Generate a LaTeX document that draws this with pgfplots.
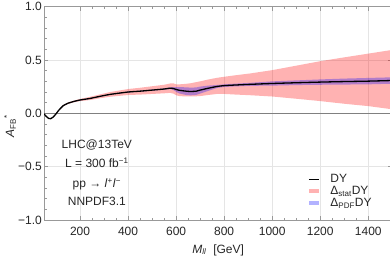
\documentclass[border=0pt]{standalone}
\usepackage{fontspec}
\setmainfont{Liberation Sans}
\usepackage{pgfplots}
\pgfplotsset{compat=1.18}
\usepgfplotslibrary{fillbetween}
\usepackage{pgfplotstable}

\pgfplotstableread{
x y slo shi plo phi
50 -0.005 -0.008 -0.002 -0.007 -0.003
60 -0.030 -0.033 -0.027 -0.032 -0.028
70 -0.048 -0.051 -0.045 -0.050 -0.046
78 -0.050 -0.053 -0.047 -0.052 -0.048
88 -0.035 -0.038 -0.032 -0.037 -0.033
100 -0.005 -0.008 -0.002 -0.007 -0.003
110 0.025 0.022 0.028 0.023 0.027
120 0.050 0.046 0.054 0.048 0.052
130 0.072 0.067 0.077 0.070 0.074
150 0.095 0.089 0.101 0.093 0.097
175 0.112 0.104 0.120 0.110 0.114
200 0.125 0.115 0.135 0.122 0.128
242 0.140 0.125 0.155 0.137 0.143
284 0.160 0.142 0.178 0.157 0.163
326 0.178 0.156 0.200 0.175 0.181
400 0.200 0.172 0.228 0.196 0.204
450 0.208 0.176 0.240 0.204 0.212
500 0.218 0.182 0.254 0.213 0.223
550 0.228 0.188 0.268 0.222 0.234
575 0.236 0.192 0.280 0.228 0.244
590 0.232 0.184 0.280 0.217 0.247
600 0.224 0.170 0.272 0.202 0.246
614 0.216 0.162 0.272 0.186 0.246
642 0.208 0.158 0.277 0.172 0.244
660 0.205 0.158 0.282 0.169 0.241
684 0.208 0.160 0.293 0.173 0.243
700 0.218 0.162 0.300 0.185 0.251
733 0.235 0.172 0.317 0.210 0.260
770 0.252 0.182 0.333 0.238 0.266
800 0.260 0.182 0.343 0.248 0.272
850 0.266 0.176 0.358 0.253 0.279
908 0.272 0.170 0.374 0.258 0.286
1000 0.280 0.158 0.405 0.260 0.300
1100 0.287 0.137 0.447 0.265 0.309
1200 0.293 0.115 0.489 0.268 0.318
1300 0.298 0.090 0.525 0.270 0.326
1400 0.302 0.068 0.560 0.272 0.332
1500 0.308 0.038 0.595 0.278 0.338
}\data

\begin{document}
\begin{tikzpicture}
\begin{axis}[
  clip mode=individual,
  at={(44pt,37pt)}, anchor=south west,
  width=348.3pt, height=213.3pt, scale only axis,
  xmin=50, xmax=1500, ymin=-1, ymax=1,
  xtick={200,400,600,800,1000,1200,1400},
  xticklabels={200,400,600,800,1000,1200,1400},
  minor x tick num=3,
  ytick={-1,-0.5,0,0.5,1},
  yticklabels={−1.0,−0.5,0.0,0.5,1.0},
  minor y tick num=4,
  tick align=inside, major tick length=4pt, minor tick length=2.5pt,
  axis line style={black!40},
  every tick/.style={black!40, line width=0.4pt},
  grid=major, major grid style={black!10, line width=0.5pt},
  ticklabel style={font=\fontsize{12}{14}\selectfont, text=black!85},
  xticklabel style={inner sep=0pt, yshift=-7pt},
  yticklabel style={inner sep=0pt, xshift=-2pt},
  xlabel={\textit{M}\textsubscript{\textit{ll}}\ \ [GeV]},
  xlabel style={at={(rel axis cs:0.5,0)}, anchor=center, yshift=-30pt, font=\fontsize{12}{14}\selectfont, text=black!85},
  legend style={at={(rel axis cs:0.758,0.215)}, anchor=north west, draw=none, fill=none,
    inner sep=0pt, row sep=0pt, column sep=11pt,
    font=\fontsize{12}{14}\selectfont, text=black!85,
    nodes={inner sep=0pt, text height=8.6pt, text depth=3.4pt}},
  legend cell align=left,
]
\draw[black!50, line width=0.5pt] (rel axis cs:0,0.5) -- (rel axis cs:1,0.5);

\addplot[name path=shi, draw=none, forget plot] table[x=x,y=shi]{\data};
\addplot[name path=slo, draw=none, forget plot] table[x=x,y=slo]{\data};
\addplot[fill=red, fill opacity=0.3, draw=none, line width=0pt, forget plot] fill between[of=shi and slo];

\addplot[name path=phi, draw=none, forget plot] table[x=x,y=phi]{\data};
\addplot[name path=plo, draw=none, forget plot] table[x=x,y=plo]{\data};
\addplot[fill=blue, fill opacity=0.3, draw=none, line width=0pt, forget plot] fill between[of=phi and plo];

\addplot[black, line width=1.3pt, smooth, tension=0.4, forget plot] table[x=x,y=y]{\data};

\addlegendimage{draw=none, legend image code/.code={\draw[black, line width=1.2pt] (0pt,1pt) -- (10pt,1pt);}}
\addlegendimage{draw=none, legend image code/.code={\path[fill=red!30, draw=none] (0pt,-0.5pt) rectangle (10pt,3.8pt);}}
\addlegendimage{draw=none, legend image code/.code={\path[fill=blue!30, draw=none] (0pt,-0.5pt) rectangle (10pt,3.8pt);}}
\legend{DY, Δ\textsubscript{stat}DY, Δ\textsubscript{PDF}DY}

\node[anchor=base, font=\fontsize{12}{14}\selectfont, text=black!85] at (axis cs:270,-0.328) {LHC@13TeV};
\node[anchor=base, font=\fontsize{12}{14}\selectfont, text=black!85] at (axis cs:270,-0.510) {L = 300 fb\textsuperscript{−1}};
\node[anchor=base, font=\fontsize{12}{14}\selectfont, text=black!85] at (axis cs:270,-0.694) {pp → \textit{l}\textsuperscript{+}\textit{l}\textsuperscript{−}};
\node[anchor=base, font=\fontsize{12}{14}\selectfont, text=black!85] at (axis cs:270,-0.868) {NNPDF3.1};
\node[anchor=center, rotate=90, inner sep=0pt, font=\fontsize{12}{14}\selectfont, text=black!85] at ([xshift=-34pt,yshift=-13pt]rel axis cs:0,0.5) {\textit{A}\textsubscript{FB}\textsuperscript{*}};
\end{axis}
\pgfresetboundingbox
\path[use as bounding box] (0,0) rectangle (390pt,257pt);
\end{tikzpicture}
\end{document}
